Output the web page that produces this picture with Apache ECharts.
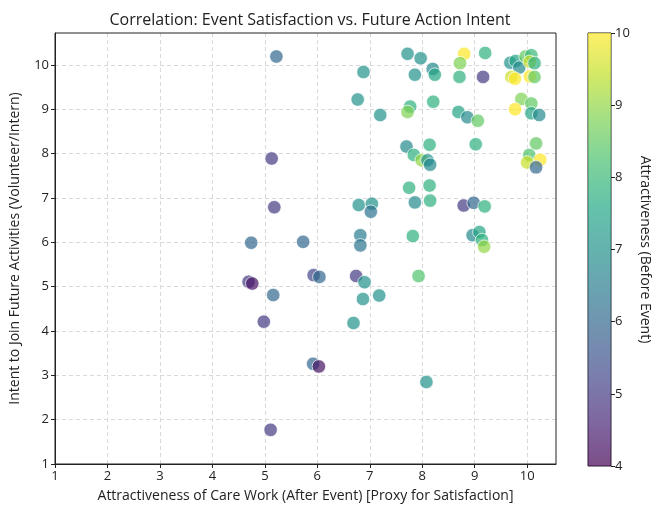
<!DOCTYPE html>
<html>
<head>
<meta charset="utf-8">
<script src="https://cdn.jsdelivr.net/npm/echarts@6/dist/echarts.min.js"></script>
<style>html,body{margin:0;padding:0;background:#fff}#c{width:653px;height:508px}</style>
</head>
<body>
<div id="c"></div>
<script>
// Attractiveness after event (x)
const afterEvent = [5.22,5.13,5.18,4.74,5.73,4.69,4.76,5.16,4.98,5.93,6.04,5.92,6.03,5.11,
  6.88,6.77,7.20,6.79,7.04,7.02,6.82,6.82,6.74,6.90,6.87,7.18,6.69,8.08,
  7.72,7.97,7.86,8.20,8.24,8.21,7.77,7.72,7.70,8.14,7.84,7.99,8.10,8.15,7.75,8.14,7.86,8.15,7.82,7.93,
  8.80,8.72,9.20,8.71,9.16,8.69,8.86,9.06,9.02,8.79,8.98,9.19,8.96,9.09,9.14,9.18,
  9.68,9.78,9.85,9.97,10.08,10.05,10.14,9.70,9.77,10.05,10.14,9.89,10.08,9.77,10.08,10.23,10.17,10.04,10.00,10.25,10.17];
// Intent to join future activities (y)
const intent = [10.19,7.89,6.79,5.99,6.01,5.11,5.07,4.81,4.21,5.26,5.22,3.26,3.20,1.77,
  9.84,9.22,8.87,6.84,6.87,6.69,6.16,5.93,5.24,5.10,4.72,4.80,4.18,2.85,
  10.25,10.15,9.78,9.91,9.78,9.17,9.06,8.94,8.16,8.20,7.97,7.85,7.85,7.75,7.23,7.28,6.90,6.94,6.14,5.24,
  10.25,10.04,10.27,9.73,9.73,8.94,8.82,8.74,8.21,6.83,6.89,6.81,6.16,6.23,6.05,5.90,
  10.05,10.09,9.94,10.19,10.22,10.07,10.04,9.73,9.69,9.74,9.73,9.23,9.13,9.00,8.91,8.87,8.23,7.97,7.80,7.86,7.69];
// Attractiveness before event (colour)
const beforeEvent = [6,5,5,6,6,5,4.3,6,5,5.2,6,6,4.3,5,
  7,7,7,7,7,6.3,6.5,6.3,5,7,7,7,7,7,
  7,7,7,6.8,7.5,7.8,7.8,8.8,6.8,7.8,7.8,9,7,6.8,7.8,7.8,6.8,7.8,7.8,8.3,
  10,8.8,7.8,7.8,5,7.5,6.8,8.5,7.8,5,6,7.8,6.8,7.5,7.8,9,
  7,7.5,6.8,8.5,8,9.5,7.8,9.5,10,10,8.5,8.8,8.5,10,7.5,6.8,8.5,8.3,9.5,10,6];
const xTicks = [1,2,3,4,5,6,7,8,9,10];
const yTicks = [1,2,3,4,5,6,7,8,9,10];
const cbTicks = [4,5,6,7,8,9,10];

const viridis = ['#440154','#482475','#414487','#355f8d','#2a788e','#21918c','#22a884','#44bf70','#7ad151','#bddf26','#fde725'];
const font = 'Open Sans';
const points = afterEvent.map((x,i)=>[x, intent[i], beforeEvent[i]]);
const intFmt = v => (Math.abs(v - Math.round(v)) < 1e-6 ? String(Math.round(v)) : '');

const chart = echarts.init(document.getElementById('c'));
chart.setOption({
  animation: false,
  textStyle: {fontFamily: font},
  title: {
    text: 'Correlation: Event Satisfaction vs. Future Action Intent',
    left: 305, top: 7, textAlign: 'center',
    textStyle: {fontFamily: font, fontSize: 16, fontWeight: 'normal', color: '#222'}
  },
  grid: [
    {left: 54, top: 33, width: 502, height: 433, show: true, borderColor: '#222', borderWidth: 1, z: 3},
    {left: 588, top: 33, width: 24, height: 433, show: true, borderColor: '#222', borderWidth: 1}
  ],
  xAxis: [
    {type: 'value', gridIndex: 0, min: 1, max: 10.55, interval: 1,
     name: 'Attractiveness of Care Work (After Event) [Proxy for Satisfaction]',
     nameLocation: 'middle', nameGap: 25,
     nameTextStyle: {fontSize: 14, color: '#222'},
     axisLine: {lineStyle: {color: '#222'}},
     axisTick: {show: true, length: 4, lineStyle: {color: '#222'}},
     axisLabel: {color: '#222', fontSize: 13, margin: 6, formatter: intFmt, showMaxLabel: false},
     splitLine: {show: true, showMinLine: false, showMaxLine: false, lineStyle: {color: '#d9d9d9', type: [4, 3]}}},
    {type: 'category', gridIndex: 1, data: [''], show: false}
  ],
  yAxis: [
    {type: 'value', gridIndex: 0, min: 1, max: 10.72, interval: 1,
     name: 'Intent to Join Future Activities (Volunteer/Intern)',
     nameLocation: 'middle', nameGap: 33,
     nameTextStyle: {fontSize: 14, color: '#222'},
     axisLine: {show: true, lineStyle: {color: '#222'}},
     axisTick: {show: true, length: 4, lineStyle: {color: '#222'}},
     axisLabel: {color: '#222', fontSize: 13, margin: 6, formatter: intFmt, showMaxLabel: false},
     splitLine: {show: true, showMinLine: false, showMaxLine: false, lineStyle: {color: '#d9d9d9', type: [4, 3]}}},
    {type: 'value', gridIndex: 1, min: 4, max: 10, interval: 1, position: 'right',
     name: 'Attractiveness (Before Event)', nameLocation: 'middle', nameGap: 27, nameRotate: -90,
     nameTextStyle: {fontSize: 14, color: '#222'},
     axisLine: {show: false},
     axisTick: {show: true, length: 4, lineStyle: {color: '#222'}},
     axisLabel: {color: '#222', fontSize: 13, margin: 4},
     splitLine: {show: false}}
  ],
  visualMap: {
    show: false, type: 'continuous', min: 4, max: 10, dimension: 2, seriesIndex: 0,
    inRange: {color: viridis}
  },
  series: [
    {type: 'scatter', xAxisIndex: 0, yAxisIndex: 0, data: points,
     symbolSize: 13.5,
     itemStyle: {opacity: 0.7, borderColor: '#ffffff', borderWidth: 1}},
    {type: 'bar', xAxisIndex: 1, yAxisIndex: 1, data: [cbTicks[cbTicks.length-1]],
     barWidth: '100%', silent: true,
     itemStyle: {opacity: 0.7, color: new echarts.graphic.LinearGradient(0, 1, 0, 0,
       viridis.map((c, i) => ({offset: i / (viridis.length - 1), color: c})))}}
  ]
});
</script>
</body>
</html>
